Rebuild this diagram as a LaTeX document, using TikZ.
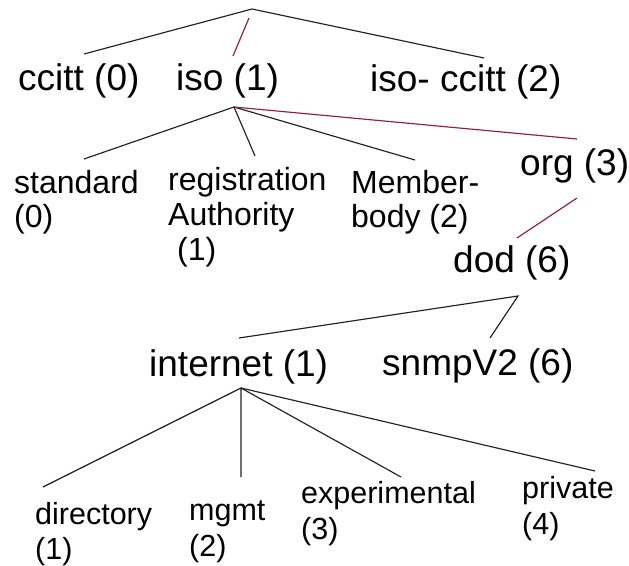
\documentclass[tikz,border=0pt]{standalone}
\usepackage{fontspec}
\setmainfont{Liberation Sans}
\definecolor{oidred}{HTML}{8E1F3F}
\definecolor{oidline}{HTML}{222222}
% stack of lines, baseline at the first one
\newcommand\oidlines[2]{\vtop{\baselineskip=#1\relax #2}}
\tikzset{
  big/.style={font=\fontsize{37}{40}\selectfont, inner sep=0pt, anchor=base west},
  small/.style={font=\fontsize{32}{35}\selectfont, inner sep=0pt, anchor=base west},
  leaf/.style={font=\fontsize{30.5}{35}\selectfont, inner sep=0pt, anchor=base west},
  branch/.style={draw=oidline, line width=1.15pt},
  path/.style={draw=oidred, line width=1.15pt}
}
\begin{document}
\begin{tikzpicture}[x=1pt, y=-1pt]
\fill[white] (0,0) rectangle (629,565);
\useasboundingbox (0,0) rectangle (629,565);

% branch points and line ends
\coordinate (root) at (252,9);
\coordinate (ccittT) at (84,54);
\coordinate (isoU) at (249,18);
\coordinate (isoT) at (233,56);
\coordinate (jointT) at (484,58);
\coordinate (isoV) at (234,107);
\coordinate (stdT) at (84,159);
\coordinate (regT) at (255,156);
\coordinate (memT) at (415,160);
\coordinate (orgT) at (577,139);
\coordinate (orgV) at (577,198);
\coordinate (dodT) at (517,238);
\coordinate (dodV) at (518,296);
\coordinate (netT) at (239,338);
\coordinate (snmpT) at (490,338);
\coordinate (netV) at (241,388);
\coordinate (dirT) at (43,487);
\coordinate (mgmtT) at (241,477);
\coordinate (expT) at (401,477);
\coordinate (privT) at (595,471);

% labels
\node[big] (ccitt) at (18,90) {ccitt (0)};
\node[big] (iso) at (176,90) {iso (1)};
\node[big] (joint) at (370,91) {iso- ccitt (2)};
\node[small] (std) at (14,193) {\oidlines{34pt}{\hbox{standard}\hbox{(0)}}};
\node[small] (reg) at (168,190) {\oidlines{35pt}{\hbox{registration}\hbox{Authority}\hbox{\hspace*{9pt}(1)}}};
\node[small] (mem) at (351,193) {\oidlines{34pt}{\hbox{Member-}\hbox{body (2)}}};
\node[big] (org) at (520,175) {org (3)};
\node[big] (dod) at (453,272) {dod (6)};
\node[big] (internet) at (149,376) {internet (1)};
\node[big] (snmp) at (382,375) {snmpV2 (6)};
\node[leaf] (dir) at (35,524) {\oidlines{35pt}{\hbox{directory}\hbox{(1)}}};
\node[leaf] (mgmt) at (189,520) {\oidlines{36pt}{\hbox{mgmt}\hbox{(2)}}};
\node[leaf] (exp) at (301,503) {\oidlines{36pt}{\hbox{experimental}\hbox{(3)}}};
\node[leaf] (priv) at (522,498) {\oidlines{36pt}{\hbox{private}\hbox{(4)}}};

% tree connectors
\draw[branch] (ccittT) -- (root) -- (jointT);
\draw[path] (isoU) -- (isoT);
\draw[branch] (stdT) -- (isoV) -- (regT);
\draw[branch] (isoV) -- (memT);
\draw[path] (isoV) -- (orgT);
\draw[path] (orgV) -- (dodT);
\draw[branch] (netT) -- (dodV) -- (snmpT);
\draw[branch] (dirT) -- (netV) -- (mgmtT);
\draw[branch] (netV) -- (expT);
\draw[branch] (netV) -- (privT);
\end{tikzpicture}
\end{document}
